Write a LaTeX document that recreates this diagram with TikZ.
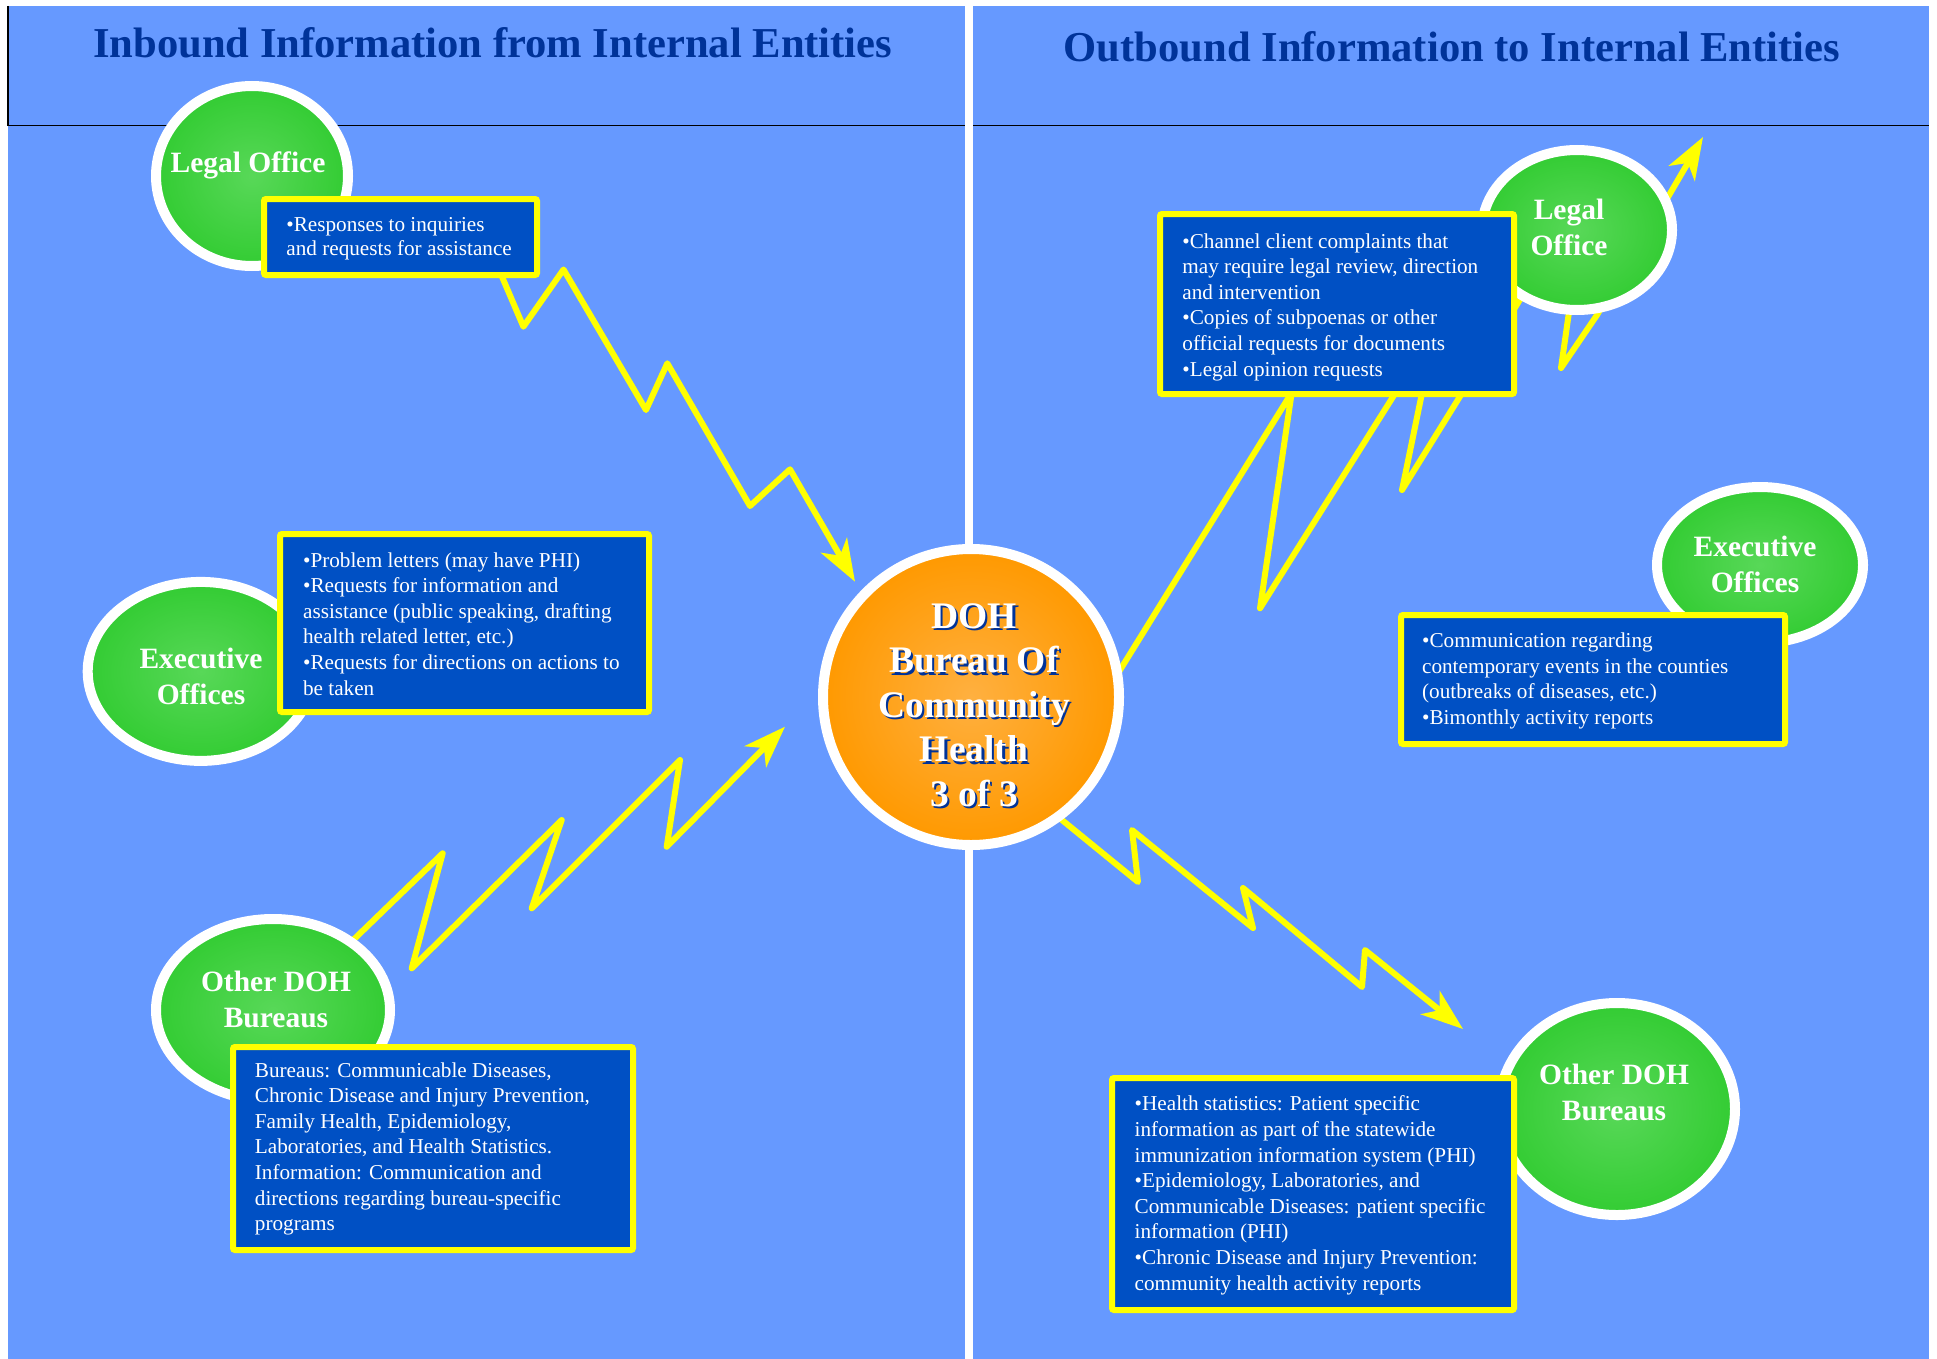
\documentclass[tikz,border=0pt]{standalone}
\usepackage{fontspec}
\setmainfont{Liberation Serif}
\usetikzlibrary{shapes.geometric,arrows.meta}
\definecolor{bgblue}{HTML}{6699FF}
\definecolor{boxblue}{HTML}{0050C4}
\definecolor{greenbase}{HTML}{33CC33}
\definecolor{greenlt}{HTML}{58D858}
\definecolor{orangebase}{HTML}{FF9900}
\definecolor{orangelt}{HTML}{FFB040}
\definecolor{titleblue}{HTML}{003399}
\definecolor{boltyellow}{HTML}{FFFF00}
\begin{document}
\begin{tikzpicture}[x=0.5pt,y=-0.5pt,
  oval/.style={ellipse, draw=white, line width=5pt, inner color=greenlt, outer color=greenbase, inner sep=0pt},
  infobox/.style={rectangle, draw=boltyellow, fill=boxblue, line width=3pt, rounded corners=1pt, inner sep=0pt},
  boxtext/.style={text=white, align=left, anchor=base west, inner sep=0pt, font=\fontsize{10.6}{12.8}\selectfont},
  ovaltext/.style={text=white, align=center, anchor=base, inner sep=0pt, font=\fontsize{14.75}{17.75}\selectfont\bfseries},
  ctext/.style={align=center, anchor=base, inner sep=0pt, font=\fontsize{18.75}{22.25}\selectfont\bfseries},
  titletext/.style={text=titleblue, anchor=base, inner sep=0pt, font=\fontsize{21.3}{25}\selectfont\bfseries},
  bolt/.style={draw=boltyellow, line width=3pt, line join=round, line cap=round,
    -{Stealth[length=21pt, width=15pt, inset=6pt]}}
]
\useasboundingbox (0,0) rectangle (1937,1359);
\fill[white] (0,0) rectangle (1937,1359);
% panels
\fill[bgblue] (8,6) rectangle (965,1359);
\fill[bgblue] (973,6) rectangle (1929,1359);
\draw[black, line width=0.85pt] (8,6) -- (8,125.5) -- (965,125.5);
\draw[black, line width=0.85pt] (973,125.5) -- (1929,125.5);
% titles
\node[titletext] (titleL) at (492.7,58) {Inbound Information from Internal Entities};
\node[titletext] (titleR) at (1452,62) {Outbound Information to Internal Entities};

% bolt coordinates
\coordinate (a0) at (500,272);
\coordinate (aT) at (855,581.7);
\coordinate (b0) at (348,945);
\coordinate (bT) at (785,726.7);
\coordinate (c0) at (1112,683);
\coordinate (cT) at (1703,137);
\coordinate (d0) at (1054,813.5);
\coordinate (dT) at (1463,1029);

% bolts (drawn below shapes)
\draw[bolt] (a0) -- (523.4,326.7) -- (563.5,269.5) -- (646,410) -- (667.3,363.3) -- (750,506) -- (790,469.3) -- (aT);
\draw[bolt] (b0) -- (442.7,853.3) -- (411.7,968.3) -- (561.7,820) -- (531.7,908.3) -- (680,760) -- (666.7,846.7) -- (bT);
\draw[bolt] (c0) -- (1291.7,392.6) -- (1260,608.3) -- (1435,330) -- (1402,490) -- (1586,193) -- (1561,368) -- (1597,315) -- (1668,197) -- (cT);
\draw[bolt] (d0) -- (1138,882) -- (1132,830) -- (1253,928) -- (1243,888) -- (1362,987) -- (1365,950) -- (dT);

% ovals
\node[oval, minimum width=96pt, minimum height=90pt] (ovLL) at (252,176) {};
\node[oval, minimum width=113pt, minimum height=89.5pt] (ovLE) at (200.7,671.4) {};
\node[oval, minimum width=117pt, minimum height=91pt] (ovLO) at (273,1010) {};
\node[oval, minimum width=95pt, minimum height=80pt] (ovRL) at (1577,230) {};
\node[oval, minimum width=103pt, minimum height=78pt] (ovRE) at (1760,565) {};
\node[oval, minimum width=118pt, minimum height=106pt] (ovRO) at (1617,1109) {};
\node[circle, draw=white, line width=5pt, inner color=orangelt, outer color=orangebase, inner sep=0pt, minimum size=148pt] (hub) at (971,697) {};

% oval labels (anchor base = last line)
\node[ovaltext] (tLL) at (248,172) {Legal Office};
\node[ovaltext] (tLE) at (201,704) {Executive\\Offices};
\node[ovaltext] (tLO) at (276,1027.4) {Other DOH\\Bureaus};
\node[ovaltext] (tRL) at (1569,255) {Legal\\Office};
\node[ovaltext] (tRE) at (1755,592) {Executive\\Offices};
\node[ovaltext] (tRO) at (1614,1120) {Other DOH\\Bureaus};

% hub text with shadow
\node[ctext, text=titleblue] (hubshadow) at (976.5,808.5) {DOH\\Bureau Of\\Community\\Health\\3 of 3};
\node[ctext, text=white] (hubtext) at (974,806) {DOH\\Bureau Of\\Community\\Health\\3 of 3};

% info boxes
\node[infobox, minimum width=136.5pt, minimum height=38pt] (boxLL) at (400.5,237) {};
\node[infobox, minimum width=184.5pt, minimum height=89pt] (boxLE) at (464.5,623) {};
\node[infobox, minimum width=200pt, minimum height=101.5pt] (boxLO) at (433,1148.5) {};
\node[infobox, minimum width=177pt, minimum height=90pt] (boxRL) at (1337,304) {};
\node[infobox, minimum width=192pt, minimum height=64.5pt] (boxRE) at (1593,679.5) {};
\node[infobox, minimum width=201pt, minimum height=116pt] (boxRO) at (1313,1194) {};

% box texts (anchor base west = last line baseline)
\node[boxtext, font=\fontsize{10.6}{11.65}\selectfont] (xLL) at (286,255) {•Responses to inquiries\\and requests for assistance};
\node[boxtext] (xLE) at (302.7,695) {•Problem letters (may have PHI)\\•Requests for information and\\assistance (public speaking, drafting\\health related letter, etc.)\\•Requests for directions on actions to\\be taken};
\node[boxtext] (xLO) at (254.5,1230.6) {Bureaus: Communicable Diseases,\\Chronic Disease and Injury Prevention,\\Family Health, Epidemiology,\\Laboratories, and Health Statistics.\\Information: Communication and\\directions regarding bureau-specific\\programs};
\node[boxtext] (xRL) at (1182,376) {•Channel client complaints that\\may require legal review, direction\\and intervention\\•Copies of subpoenas or other\\official requests for documents\\•Legal opinion requests};
\node[boxtext] (xRE) at (1421.7,724.5) {•Communication regarding\\contemporary events in the counties\\(outbreaks of diseases, etc.)\\•Bimonthly activity reports};
\node[boxtext] (xRO) at (1134.3,1290) {•Health statistics: Patient specific\\information as part of the statewide\\immunization information system (PHI)\\•Epidemiology, Laboratories, and\\Communicable Diseases: patient specific\\information (PHI)\\•Chronic Disease and Injury Prevention:\\community health activity reports};
\end{tikzpicture}
\end{document}
